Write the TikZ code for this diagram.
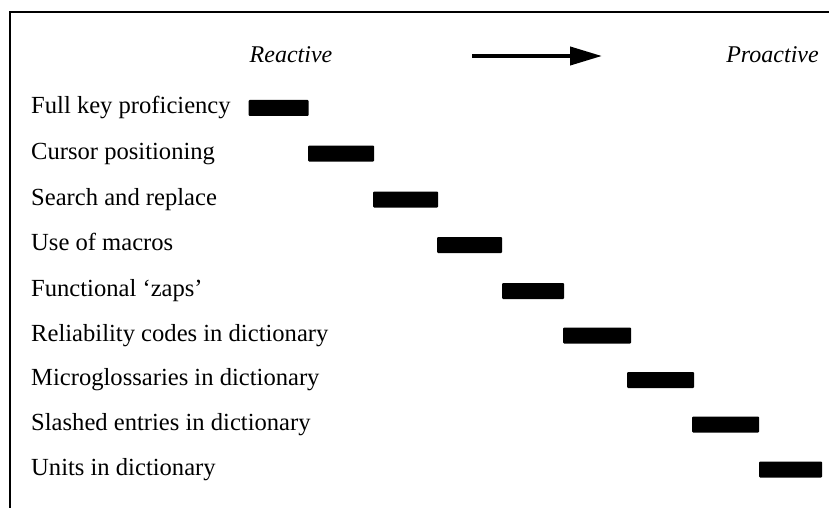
\documentclass[tikz,border=0pt]{standalone}
\usepackage{fontspec}
\setmainfont{Liberation Serif}
\usetikzlibrary{arrows.meta}
\begin{document}
\begin{tikzpicture}[x=1pt,y=-1pt,
  lbl/.style={anchor=base west,inner sep=0pt,font=\fontsize{24.6}{30}\selectfont},
  hdr/.style={anchor=base,inner sep=0pt,font=\fontsize{24}{28}\selectfont\itshape},
  bar/.style={fill=black,inner sep=0pt,minimum height=16pt,rounded corners=1pt}]
\useasboundingbox (0,0) rectangle (829,508);
% frame
\draw[line width=2pt] (10,508) -- (10,12.5) -- (829,12.5);
% header
\node[hdr] (reactive) at (291,63) {Reactive};
\node[hdr] (proactive) at (772.5,63) {Proactive};
\coordinate (as) at (472,56);
\coordinate (ae) at (602,56);
\draw[line width=4pt,-{Triangle[length=32pt,width=18pt]}] (as) -- (ae);
% labels
\node[lbl] (l1) at (31,113.5) {Full key proficiency};
\node[lbl] (l2) at (31,159) {Cursor positioning};
\node[lbl] (l3) at (31,205) {Search and replace};
\node[lbl] (l4) at (31,250.5) {Use of macros};
\node[lbl] (l5) at (31,296) {Functional ‘zaps’};
\node[lbl] (l6) at (31,341) {Reliability codes in dictionary};
\node[lbl] (l7) at (31,385.5) {Microglossaries in dictionary};
\node[lbl] (l8) at (31,430) {Slashed entries in dictionary};
\node[lbl] (l9) at (31,475) {Units in dictionary};
% bars
\node[bar,minimum width=60pt] (b1) at (278.5,108) {};
\node[bar,minimum width=66pt] (b2) at (341,153.5) {};
\node[bar,minimum width=65pt] (b3) at (405.5,199.5) {};
\node[bar,minimum width=65pt] (b4) at (469.5,245) {};
\node[bar,minimum width=62pt] (b5) at (533,291) {};
\node[bar,minimum width=68pt] (b6) at (597,335.5) {};
\node[bar,minimum width=67pt] (b7) at (660.5,380) {};
\node[bar,minimum width=67pt] (b8) at (725.5,424.5) {};
\node[bar,minimum width=63pt] (b9) at (790.5,469.5) {};
\end{tikzpicture}
\end{document}
